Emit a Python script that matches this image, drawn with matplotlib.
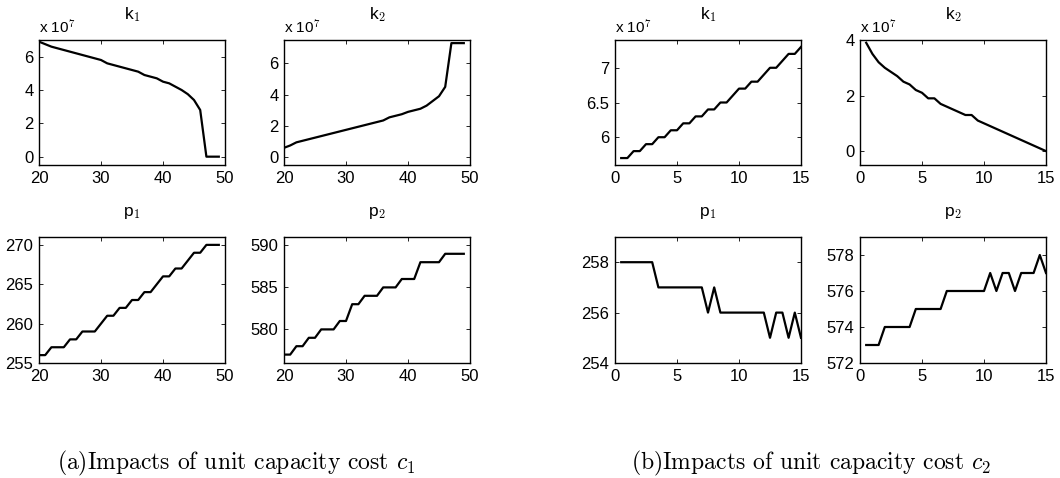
import numpy as np
import matplotlib
matplotlib.use("Agg")
import matplotlib.pyplot as plt

plt.rcParams['font.family'] = ['Liberation Sans', 'DejaVu Sans']
plt.rcParams['mathtext.fontset'] = 'cm'

# (a) unit capacity cost c1 varies from 20 to 49
c1 = np.arange(20, 50)
k1_a = [6.9, 6.75, 6.6, 6.5, 6.4, 6.3, 6.2, 6.1, 6.0, 5.9,
        5.8, 5.6, 5.5, 5.4, 5.3, 5.2, 5.1, 4.9, 4.8, 4.7,
        4.5, 4.4, 4.2, 4.0, 3.75, 3.4, 2.8, 0.0, 0.0, 0.0]      # x 10^7
k2_a = [0.6, 0.75, 0.95, 1.05, 1.15, 1.25, 1.35, 1.45, 1.55, 1.65,
        1.75, 1.85, 1.95, 2.05, 2.15, 2.25, 2.35, 2.55, 2.65, 2.75,
        2.9, 3.0, 3.1, 3.3, 3.6, 3.9, 4.5, 7.3, 7.3, 7.3]        # x 10^7
p1_a = [256, 256, 257, 257, 257, 258, 258, 259, 259, 259,
        260, 261, 261, 262, 262, 263, 263, 264, 264, 265,
        266, 266, 267, 267, 268, 269, 269, 270, 270, 270]
p2_a = [577, 577, 578, 578, 579, 579, 580, 580, 580, 581,
        581, 583, 583, 584, 584, 584, 585, 585, 585, 586,
        586, 586, 588, 588, 588, 588, 589, 589, 589, 589]

# (b) unit capacity cost c2 varies from 0.5 to 15
c2 = np.arange(1, 31) * 0.5
k1_b = [5.7, 5.7, 5.8, 5.8, 5.9, 5.9, 6.0, 6.0, 6.1, 6.1,
        6.2, 6.2, 6.3, 6.3, 6.4, 6.4, 6.5, 6.5, 6.6, 6.7,
        6.7, 6.8, 6.8, 6.9, 7.0, 7.0, 7.1, 7.2, 7.2, 7.3]        # x 10^7
k2_b = [3.9, 3.5, 3.2, 3.0, 2.85, 2.7, 2.5, 2.4, 2.2, 2.1,
        1.9, 1.9, 1.7, 1.6, 1.5, 1.4, 1.3, 1.3, 1.1, 1.0,
        0.9, 0.8, 0.7, 0.6, 0.5, 0.4, 0.3, 0.2, 0.1, 0.0]        # x 10^7
p1_b = [258, 258, 258, 258, 258, 258, 257, 257, 257, 257,
        257, 257, 257, 257, 256, 257, 256, 256, 256, 256,
        256, 256, 256, 256, 255, 256, 256, 255, 256, 255]
p2_b = [573, 573, 573, 574, 574, 574, 574, 574, 575, 575,
        575, 575, 575, 576, 576, 576, 576, 576, 576, 576,
        577, 576, 577, 577, 576, 577, 577, 577, 578, 577]

W, H = 1060, 478
fig = plt.figure(figsize=(W / 100, H / 100), dpi=100)


def box(x0, x1, ytop, ybot):
    return [x0 / W, 1 - ybot / H, (x1 - x0) / W, (ybot - ytop) / H]


def panel(rect, x, y, title, xlim, xticks, ylim, yticks, ylabels=None, sci=False):
    ax = fig.add_axes(rect)
    ax.plot(x, y, color='black', lw=1.6)
    ax.set_xlim(xlim)
    ax.set_ylim(ylim)
    ax.set_xticks(xticks)
    ax.set_yticks(yticks)
    if ylabels is not None:
        ax.set_yticklabels(ylabels)
    ax.tick_params(direction='in', top=True, right=True, length=3,
                   labelsize=12, width=0.6, pad=4)
    for s in ax.spines.values():
        s.set_linewidth(1.0)
    ax.set_title(title, fontsize=12.5, pad=15)
    if sci:
        ax.text(0.0, 1.03, r'x 10$^{\mathsf{7}}$', transform=ax.transAxes,
                fontsize=11, ha='left', va='bottom')
    return ax


top = (40, 165)
bot = (237, 363)
xa = [(39, 225), (284, 470)]
xb = [(615, 801), (860, 1046)]

t_k1 = r'k$_{\mathsf{1}}$'
t_k2 = r'k$_{\mathsf{2}}$'
t_p1 = r'p$_{\mathsf{1}}$'
t_p2 = r'p$_{\mathsf{2}}$'

panel(box(*xa[0], *top), c1, k1_a, t_k1, (20, 50), [20, 30, 40, 50],
      (-0.5, 7.0), [0, 2, 4, 6], sci=True)
panel(box(*xa[1], *top), c1, k2_a, t_k2, (20, 50), [20, 30, 40, 50],
      (-0.5, 7.5), [0, 2, 4, 6], sci=True)
panel(box(*xa[0], *bot), c1, p1_a, t_p1, (20, 50), [20, 30, 40, 50],
      (255, 271), [255, 260, 265, 270])
panel(box(*xa[1], *bot), c1, p2_a, t_p2, (20, 50), [20, 30, 40, 50],
      (576, 591), [580, 585, 590])

panel(box(*xb[0], *top), c2, k1_b, t_k1, (0, 15), [0, 5, 10, 15],
      (5.6, 7.4), [6, 6.5, 7], ['6', '6.5', '7'], sci=True)
panel(box(*xb[1], *top), c2, k2_b, t_k2, (0, 15), [0, 5, 10, 15],
      (-0.5, 4.0), [0, 2, 4], sci=True)
panel(box(*xb[0], *bot), c2, p1_b, t_p1, (0, 15), [0, 5, 10, 15],
      (254, 259), [254, 256, 258])
panel(box(*xb[1], *bot), c2, p2_b, t_p2, (0, 15), [0, 5, 10, 15],
      (572, 579), [572, 574, 576, 578])

fig.text(236 / W, 1 - 463 / H, r'(a)Impacts of unit capacity cost $c_1$',
         ha='center', va='center', fontsize=17, family='cmr10')
fig.text(811 / W, 1 - 463 / H, r'(b)Impacts of unit capacity cost $c_2$',
         ha='center', va='center', fontsize=17, family='cmr10')

fig.savefig('out.png', dpi=100)
